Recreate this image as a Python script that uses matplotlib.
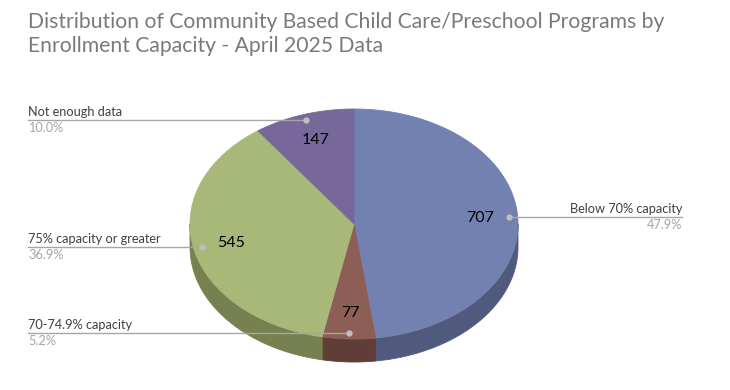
import numpy as np
import matplotlib
matplotlib.use("Agg")
import matplotlib.pyplot as plt

categories = ["Below 70% capacity", "70-74.9% capacity", "75% capacity or greater", "Not enough data"]
values = [707, 77, 545, 147]
pct_labels = ["47.9%", "5.2%", "36.9%", "10.0%"]
top_colors = ["#7381B1", "#8C5E55", "#A8B878", "#76699A"]
side_colors = ["#4F5A7D", "#5F3E37", "#77814F", "#54496E"]
title = "Distribution of Community Based Child Care/Preschool Programs by\nEnrollment Capacity - April 2025 Data"

FONT = ["Lato", "DejaVu Sans"]
plt.rcParams['font.family'] = FONT

fig = plt.figure(figsize=(7.3, 3.9), dpi=100)
ax = fig.add_axes([0, 0, 1, 1])
ax.set_xlim(0, 730)
ax.set_ylim(390, 0)
ax.axis("off")

cx, cy, rx, ry, depth = 354, 224, 164, 115, 23

def pt(a, f=1.0, dz=0.0):
    r = np.radians(a)
    return cx + rx * f * np.cos(r), cy - ry * f * np.sin(r) + dz

total = float(sum(values))
angles = []
start = 90.0
for v in values:
    sweep = 360.0 * v / total
    angles.append((start - sweep, start))
    start -= sweep

# side faces (front half)
for (a1, a2), sc in zip(angles, side_colors):
    for lo, hi in [(-180, 0), (-540, -360), (180, 360)]:
        s, e = max(a1, lo), min(a2, hi)
        if e > s:
            t = np.linspace(s, e, 80)
            xs, ys = pt(t)
            xb, yb = pt(t[::-1], dz=depth)
            ax.fill(np.concatenate([xs, xb]), np.concatenate([ys, yb]),
                    color=sc, lw=0.6, ec=sc, zorder=1)

# top faces
for (a1, a2), tc in zip(angles, top_colors):
    t = np.linspace(a1, a2, 200)
    xs, ys = pt(t)
    ax.fill(np.concatenate([[cx], xs]), np.concatenate([[cy], ys]),
            color=tc, lw=0.6, ec=tc, zorder=2)

# labels
for (a1, a2), v, cat, pc in zip(angles, values, categories, pct_labels):
    mid = (a1 + a2) / 2
    lx, ly = pt(mid, 0.77)
    ax.text(lx, ly, str(v), ha="center", va="center", fontsize=11.5,
            color="#000000", zorder=5)
    dx, dy = pt(mid, 0.95)
    ax.plot([dx], [dy], "o", ms=3.5, color="#BFBFBF", zorder=6)
    if np.cos(np.radians(mid)) > 0:
        ex = 682
        ax.plot([dx, ex], [dy, dy], color="#A6A6A6", lw=1.0, zorder=4)
        ax.text(ex, dy - 2, cat, ha="right", va="bottom", fontsize=9.2, color="#404040")
        ax.text(ex, dy + 2, pc, ha="right", va="top", fontsize=9.2, color="#A6A6A6")
    else:
        ex = 28
        ax.plot([ex, dx], [dy, dy], color="#A6A6A6", lw=1.0, zorder=4)
        ax.text(ex, dy - 2, cat, ha="left", va="bottom", fontsize=9.2, color="#404040")
        ax.text(ex, dy + 2, pc, ha="left", va="top", fontsize=9.2, color="#A6A6A6")

ax.text(28, 12, title, ha="left", va="top", fontsize=15.2, color="#7A7A7A",
        linespacing=1.25)

fig.savefig("out.png", dpi=100, facecolor="white")
